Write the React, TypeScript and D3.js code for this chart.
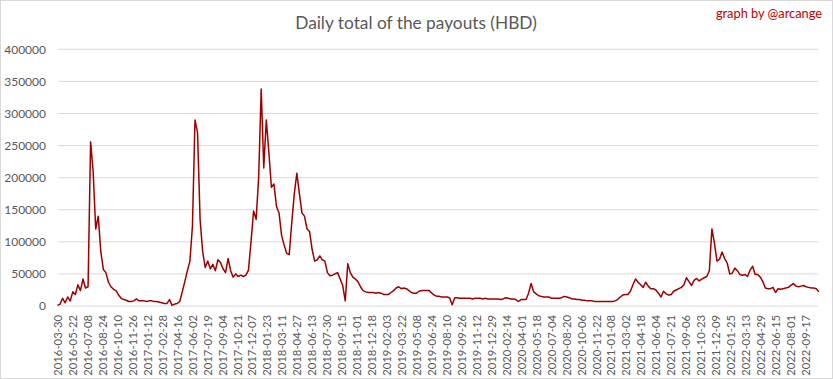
import React from "react";
import * as d3 from "d3";

const WIDTH = 833;
const HEIGHT = 379;
const title = "Daily total of the payouts (HBD)";
const credit = "graph by @arcange";

const dateLabels = [
  "2016-03-30", "2016-05-22", "2016-07-08", "2016-08-24", "2016-10-10", "2016-11-26",
  "2017-01-12", "2017-02-28", "2017-04-16", "2017-06-02", "2017-07-19", "2017-09-04",
  "2017-10-21", "2017-12-07", "2018-01-23", "2018-03-11", "2018-04-27", "2018-06-13",
  "2018-07-30", "2018-09-15", "2018-11-01", "2018-12-18", "2019-02-03", "2019-03-22",
  "2019-05-08", "2019-06-24", "2019-08-10", "2019-09-26", "2019-11-12", "2019-12-29",
  "2020-02-14", "2020-04-01", "2020-05-18", "2020-07-04", "2020-08-20", "2020-10-06",
  "2020-11-22", "2021-01-08", "2021-03-02", "2021-04-18", "2021-06-04", "2021-07-21",
  "2021-09-06", "2021-10-23", "2021-12-09", "2022-01-25", "2022-03-13", "2022-04-29",
  "2022-06-15", "2022-08-01", "2022-09-17",
];
const labelStepDays = 47;
const sampleStepDays = 8;
const totalDays = 2390;

const yTicks = [0, 50000, 100000, 150000, 200000, 250000, 300000, 350000, 400000];

// daily total, sampled every 8 days
const payouts = [
  1000, 3000, 12000, 5000, 14000, 8000, 22000, 18000, 33000, 24000, 42000, 28000, 30000,
  256000, 210000, 120000, 140000, 85000, 57000, 52000, 37000, 30000, 26000, 24000, 17000, 12000, 10000, 9000, 7000,
  7000, 8000, 11000, 8000, 8000, 8000, 7000, 8000, 8000, 7000, 7000, 6000, 5000, 4000, 4000, 10000, 1000, 3000, 4000, 7000,
  22000, 38000, 55000, 70000, 125000, 290000, 270000, 135000, 85000, 60000, 70000, 58000, 65000, 55000, 72000, 68000,
  58000, 52000, 74000, 55000, 45000, 50000, 46000, 48000, 46000, 48000, 56000,
  100000, 148000, 135000, 200000, 338000, 215000, 290000, 240000, 185000, 190000, 155000, 145000, 110000, 95000,
  82000, 80000, 130000, 175000, 207000, 175000, 145000, 140000, 120000, 116000,
  88000, 70000, 72000, 78000, 72000, 70000, 52000, 47000, 48000, 50000, 52000, 42000, 32000, 8000, 66000, 52000,
  45000, 42000, 38000, 30000, 24000, 22000, 21000,
  21000, 21000, 20000, 21000, 20000, 18000, 18000, 18000, 21000, 24000, 28000, 30000, 27000, 28000, 27000, 24000,
  21000, 20000, 20000, 23000, 24000, 24000, 24000, 24000, 20000, 17000, 15000, 15000, 14000, 14000, 14000, 13000,
  2000, 13000, 13000, 12000,
  12000, 12000, 12000, 12000, 11000, 12000, 12000, 12000, 11000, 12000, 11000, 11000, 11000, 11000, 11000, 10000,
  11000, 13000, 12000, 11000, 11000, 10000, 7000, 10000, 10000, 10000, 20000, 35000, 22000, 19000, 16000, 15000,
  14000, 14000, 14000, 12000, 12000, 12000, 12000, 13000, 15000, 14000, 13000, 11000, 11000, 10000, 10000, 9000,
  9000, 8000, 8000, 8000, 7000, 7000, 7000, 7000, 7000, 7000, 7000, 7000, 8000, 10000, 14000,
  17000, 18000, 18000, 23000, 33000, 42000, 37000, 33000, 29000, 37000, 31000, 27000, 27000, 25000, 20000,
  14000, 23000, 19000, 17000, 18000, 23000, 25000, 27000, 29000, 33000, 44000, 38000, 32000, 40000, 43000,
  39000, 42000, 44000, 46000, 55000, 120000, 98000, 70000, 73000, 84000, 74000, 67000, 50000, 51000, 59000,
  55000, 49000, 48000, 49000, 46000, 56000, 62000, 49000, 49000, 45000, 38000, 28000, 27000, 27000, 29000,
  21000, 27000, 26000, 27000, 28000, 29000, 32000, 35000, 31000, 30000, 31000, 32000, 30000, 29000, 28000,
  28000, 27000, 22000,
];

const FONT = "Lato, 'Open Sans', sans-serif";
const TEXT = "#595959";
const GRID = "#d9d9d9";
const LINE = "#9e0000";

export default function App() {
  const x = d3.scaleLinear().domain([0, totalDays]).range([57.5, 818.2]);
  const y = d3.scaleLinear().domain([0, 400000]).range([306, 49.3]);
  const linePath =
    d3
      .line<number>()
      .x((_, i) => x(i * sampleStepDays))
      .y((d) => y(d))(payouts) || "";

  return (
    <svg
      width={WIDTH}
      height={HEIGHT}
      style={{ position: "absolute", left: 0, top: 0, background: "#fff" }}
      fontFamily={FONT}
    >
      <rect x={0.5} y={0.5} width={WIDTH - 1} height={HEIGHT - 1} fill="#fff" stroke={GRID} />
      <text x={416} y={29} textAnchor="middle" fontSize={17.3} fill={TEXT}>
        {title}
      </text>
      <text x={822} y={18} textAnchor="end" fontSize={12.8} fill="#c00000">
        {credit}
      </text>
      {yTicks.map((t) => (
        <g key={t}>
          <line x1={57.7} x2={818} y1={y(t)} y2={y(t)} stroke={GRID} strokeWidth={1} />
          <text x={46} y={y(t)} dy="0.35em" textAnchor="end" fontSize={12} fill={TEXT}>
            {t}
          </text>
        </g>
      ))}
      {dateLabels.map((d, k) => (
        <text
          key={d}
          transform={`translate(${x(k * labelStepDays) + 4.5},315) rotate(-90)`}
          textAnchor="end"
          fontSize={11.3}
          fill={TEXT}
        >
          {d}
        </text>
      ))}
      <path d={linePath} fill="none" stroke={LINE} strokeWidth={1.5} strokeLinejoin="round" />
    </svg>
  );
}
